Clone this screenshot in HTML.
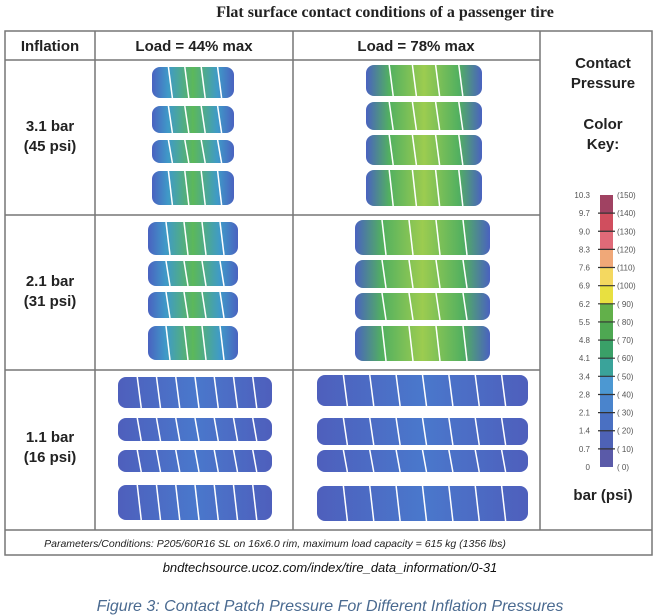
<!DOCTYPE html>
<html><head><meta charset="utf-8"><style>
body{margin:0;width:660px;height:616px;background:#fff;overflow:hidden}
svg{display:block}
</style></head><body>
<svg id="s" width="660" height="616" xmlns="http://www.w3.org/2000/svg">
<defs>
<linearGradient id="g1" x1="0" x2="1" y1="0" y2="0">
<stop offset="0" stop-color="#4a62c0"/><stop offset="0.2" stop-color="#3f9ac8"/><stop offset="0.5" stop-color="#5cb85a"/><stop offset="0.8" stop-color="#3f9ac8"/><stop offset="1" stop-color="#4a62c0"/></linearGradient>
<linearGradient id="g2" x1="0" x2="1" y1="0" y2="0">
<stop offset="0" stop-color="#4a62c0"/><stop offset="0.2" stop-color="#52b060"/><stop offset="0.5" stop-color="#9ccc50"/><stop offset="0.8" stop-color="#52b060"/><stop offset="1" stop-color="#4a62c0"/></linearGradient>
<linearGradient id="g3" x1="0" x2="1" y1="0" y2="0">
<stop offset="0" stop-color="#4e5fbc"/><stop offset="0.5" stop-color="#4a78cc"/><stop offset="1" stop-color="#4e5fbc"/></linearGradient>
</defs>
<text x="385" y="17" text-anchor="middle" font-family="Liberation Serif, serif" font-weight="bold" font-size="16" fill="#222">Flat surface contact conditions of a passenger tire</text>
<g stroke="#777" fill="none" stroke-width="1.5">
<rect x="5" y="31" width="647" height="524"/>
<line x1="5" y1="60" x2="540" y2="60"/>
<line x1="95" y1="31" x2="95" y2="530"/>
<line x1="293" y1="31" x2="293" y2="530"/>
<line x1="540" y1="31" x2="540" y2="530"/>
<line x1="5" y1="215" x2="540" y2="215"/>
<line x1="5" y1="370" x2="540" y2="370"/>
<line x1="5" y1="530" x2="652" y2="530"/>
</g>
<g font-family="Liberation Sans, sans-serif" font-weight="bold" font-size="15" fill="#222" text-anchor="middle">
<text x="50" y="51">Inflation</text>
<text x="194" y="51">Load = 44% max</text>
<text x="416" y="51">Load = 78% max</text>
<text x="50" y="131">3.1 bar</text>
<text x="50" y="151">(45 psi)</text>
<text x="50" y="286">2.1 bar</text>
<text x="50" y="306">(31 psi)</text>
<text x="50" y="442">1.1 bar</text>
<text x="50" y="462">(16 psi)</text>
<text x="603" y="68">Contact</text>
<text x="603" y="88">Pressure</text>
<text x="603" y="129">Color</text>
<text x="603" y="149">Key:</text>
<text x="603" y="500">bar  (psi)</text>
</g>
<text x="275" y="547" text-anchor="middle" font-family="Liberation Sans, sans-serif" font-style="italic" font-size="10.5" fill="#222">Parameters/Conditions:  P205/60R16 SL on 16x6.0 rim, maximum load capacity = 615 kg (1356 lbs)</text>
<text x="330" y="572" text-anchor="middle" font-family="Liberation Sans, sans-serif" font-style="italic" font-size="13" fill="#111">bndtechsource.ucoz.com/index/tire_data_information/0-31</text>
<text x="330" y="611" text-anchor="middle" font-family="Liberation Sans, sans-serif" font-style="italic" font-size="16" fill="#4a6a90">Figure 3: Contact Patch Pressure For Different Inflation Pressures</text>
<g id="patches"></g>
<g id="key"></g>
</svg>
<script>
const keyBar=["0","0.7","1.4","2.1","2.8","3.4","4.1","4.8","5.5","6.2","6.9","7.6","8.3","9.0","9.7","10.3"];
const keyPsi=["( 0)","( 10)","( 20)","( 30)","( 40)","( 50)","( 60)","( 70)","( 80)","( 90)","(100)","(110)","(120)","(130)","(140)","(150)"];
const keyColors=["#5a5aa8","#4e62b6","#4a70c2","#4a84cc","#4c98d2","#3aa39a","#3aa068","#4ea852","#62b04a","#e8e040","#f4d860","#f0a878","#e06a78","#d04e5e","#a04262"];
// patch boxes per cell: [xLeft, xRight] and rib [top,bottom]
const cells=[
 {x:[152,234],ribs:[[67,98],[106,133],[140,163],[171,205]],g:"g1"},
 {x:[366,482],ribs:[[65,96],[102,130],[135,165],[170,206]],g:"g2"},
 {x:[148,238],ribs:[[222,255],[261,286],[292,318],[326,360]],g:"g1"},
 {x:[355,490],ribs:[[220,255],[260,288],[293,320],[326,361]],g:"g2"},
 {x:[118,272],ribs:[[377,408],[418,441],[450,472],[485,520]],g:"g3"},
 {x:[317,528],ribs:[[375,406],[418,445],[450,472],[486,521]],g:"g3"}];
const NS="http://www.w3.org/2000/svg";
const P=document.getElementById('patches');
cells.forEach((c,i)=>{
 c.ribs.forEach((r,j)=>{
  const e=document.createElementNS(NS,'rect');
  
  
  e.setAttribute('x',c.x[0]);e.setAttribute('y',r[0]);
  e.setAttribute('width',c.x[1]-c.x[0]);e.setAttribute('height',r[1]-r[0]);
  e.setAttribute('rx',8);e.setAttribute('fill','url(#'+c.g+')');
  P.appendChild(e);
  const n=i>=4?8:5;
  for(let k=1;k<n;k++){
   const l=document.createElementNS(NS,'line');
   const xx=c.x[0]+(c.x[1]-c.x[0])*k/n;
   l.setAttribute('x1',xx);l.setAttribute('x2',xx+4);
   l.setAttribute('y1',r[0]);l.setAttribute('y2',r[1]);
   l.setAttribute('stroke','#fff');l.setAttribute('stroke-width',1.5);
   P.appendChild(l);
  }
 });
});
const K=document.getElementById('key');
const y0=467,y1=195,bx=600,bw=13;
const ys=v=>y0-(y0-y1)*v/(keyBar.length-1);
keyColors.forEach((c,i)=>{
 const e=document.createElementNS(NS,'rect');
 
 
 e.setAttribute('x',bx);e.setAttribute('y',ys(i+1));e.setAttribute('width',bw);e.setAttribute('height',ys(i)-ys(i+1));
 e.setAttribute('fill',c);K.appendChild(e);
});
keyBar.forEach((b,i)=>{
 const y=ys(i);
 const t=document.createElementNS(NS,'text');
 
 
 t.setAttribute('x',590);t.setAttribute('y',y+3);t.setAttribute('text-anchor','end');
 t.setAttribute('font-family','Liberation Sans, sans-serif');t.setAttribute('font-size','8');t.setAttribute('fill','#555');
 t.textContent=b;K.appendChild(t);
 const t2=document.createElementNS(NS,'text');
 
 
 t2.setAttribute('x',617);t2.setAttribute('y',y+3);
 t2.setAttribute('font-family','Liberation Sans, sans-serif');t2.setAttribute('font-size','8');t2.setAttribute('fill','#555');
 t2.textContent=keyPsi[i];K.appendChild(t2);
 if(i>0&&i<keyBar.length-1){
  const l=document.createElementNS(NS,'line');
  l.setAttribute('x1',bx-2);l.setAttribute('x2',bx+bw+2);l.setAttribute('y1',y);l.setAttribute('y2',y);
  l.setAttribute('stroke','#333');l.setAttribute('stroke-width','1.2');K.appendChild(l);
 }
});
</script>
</body></html>
